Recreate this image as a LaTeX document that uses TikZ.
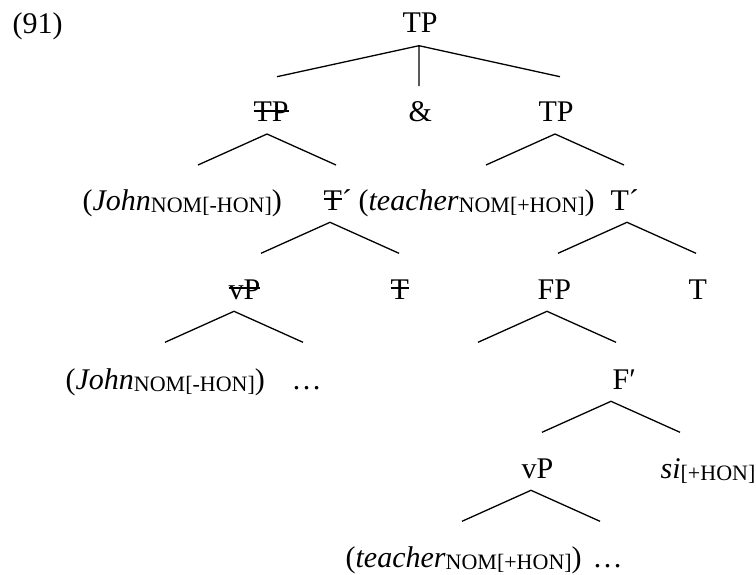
\documentclass[tikz,border=0pt]{standalone}
\usepackage{fontspec}
\setmainfont{Liberation Serif}
\newcommand{\hon}[1]{\raisebox{-2pt}{\fontsize{22}{22}\selectfont #1}}
\newcommand{\strk}[1]{\setbox0\hbox{#1}\rlap{\rule[0.33em]{\wd0}{0.065em}}\box0}
\newcommand{\branch}[3]{\draw ([xshift=#2,yshift=-#3]#1.base west) +(-69,31) -- +(0,0) -- +(69,31);}
\begin{document}
\begin{tikzpicture}[x=1pt,y=-1pt,line width=1.3pt,
  every node/.style={inner sep=0pt,anchor=base west,font=\fontsize{30}{36}\selectfont}]
\useasboundingbox (0,0) rectangle (756,574);
\node (num) at (12,33) {(91)};
\node (tp) at (402,32) {TP};
\node (tpl) at (253,121.7) {\strk{TP}};
\node (and) at (408,121.7) {\&};
\node (tpr) at (538,121.7) {TP};
\node (jn) at (82,210) {(\textit{John}\hon{NOM[-HON]})};
\node (tbl) at (323,210) {\strk{T}´};
\node (tc) at (358,210) {(\textit{teacher}\hon{NOM[+HON]})};
\node (tbr) at (610,210) {T´};
\node (vpl) at (228,299) {\strk{vP}};
\node (tl) at (390,299) {\strk{T}};
\node (fp) at (537,299) {FP};
\node (tr) at (688,299) {T};
\node (jnb) at (65,389) {(\textit{John}\hon{NOM[-HON]})};
\node (dl) at (291,389) {…};
\node (fb) at (612,389) {F′};
\node (vpb) at (521,478) {vP};
\node (si) at (660,478) {\textit{si}\hon{[+HON]}};
\node (tcb) at (345,567) {(\textit{teacher}\hon{NOM[+HON]})};
\node (dr) at (592,567) {…};
\draw ([xshift=17pt,yshift=-13.7pt]tp.base west) +(-142,31) -- +(0,0) -- +(141,31)
  +(0,0) -- +(0,40.3);
\branch{tpl}{14pt}{12.3pt}
\branch{tpr}{17pt}{12.3pt}
\branch{tbl}{7pt}{12.3pt}
\branch{tbr}{17pt}{12.3pt}
\branch{vpl}{6pt}{12.3pt}
\branch{fp}{10pt}{12.3pt}
\branch{fb}{-1pt}{12.3pt}
\branch{vpb}{10pt}{12.3pt}
\end{tikzpicture}
\end{document}
